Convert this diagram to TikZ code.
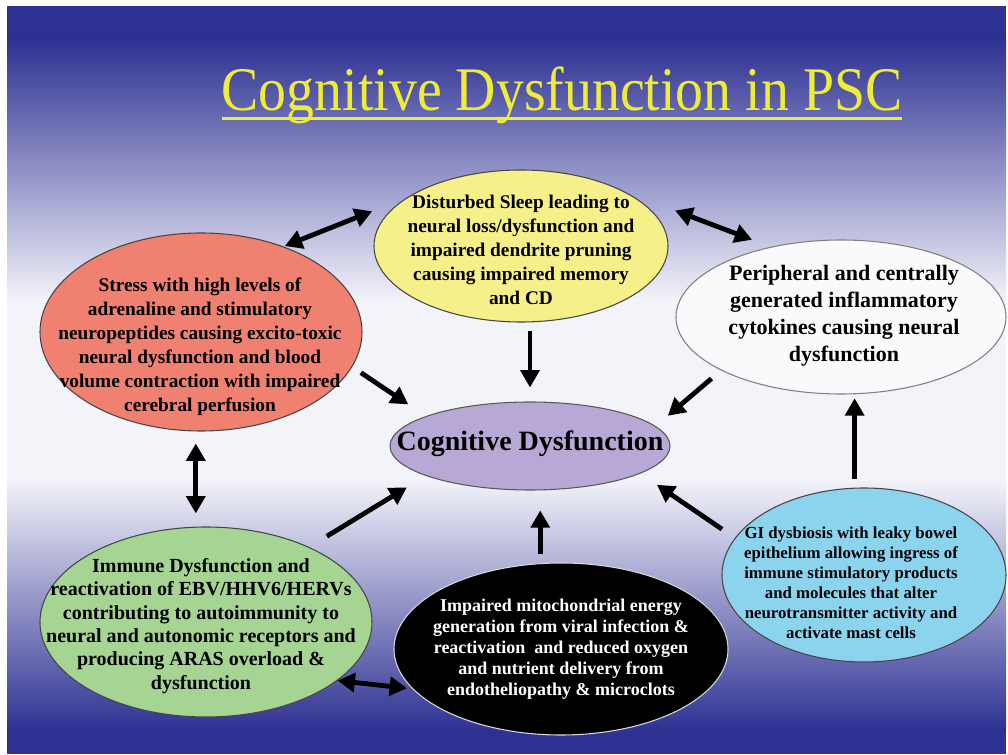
\documentclass[tikz,border=0pt]{standalone}
\usepackage{fontspec}
\setmainfont{Liberation Serif}
\usetikzlibrary{arrows.meta,shapes.geometric,calc}
\definecolor{bgblue}{RGB}{46,49,146}
\definecolor{bgwhite}{RGB}{243,243,250}
\definecolor{ttlyellow}{RGB}{238,236,54}
\definecolor{cyel}{RGB}{246,240,138}
\definecolor{cred}{RGB}{240,128,112}
\definecolor{cwhite}{RGB}{250,250,253}
\definecolor{cpur}{RGB}{183,168,214}
\definecolor{cgreen}{RGB}{166,212,146}
\definecolor{ccyan}{RGB}{140,212,238}
\definecolor{edge}{RGB}{70,70,70}
\begin{document}
\begin{tikzpicture}[x=0.75pt,y=-0.75pt,
  ell/.style={ellipse,inner sep=0pt,draw=edge,line width=0.8pt},
  txt/.style={align=center,inner sep=0pt,font=\bfseries},
  arr/.style={line width=3.6pt,-{Triangle[length=13pt,width=14pt]}},
  darr/.style={line width=3.6pt,{Triangle[length=13pt,width=14pt]}-{Triangle[length=13pt,width=14pt]}},
  uline/.style={draw=ttlyellow,line width=2.4pt}]
\useasboundingbox (0,0) rectangle (1008,755);
\fill[white] (0,0) rectangle (1008,755);
\fill[bgblue] (7,6) rectangle (1006,41);
\shade[top color=bgblue,bottom color=bgwhite] (7,40) rectangle (1006,301);
\fill[bgwhite] (7,300) rectangle (1006,481);
\shade[top color=bgwhite,bottom color=bgblue] (7,480) rectangle (1006,731);
\fill[bgblue] (7,730) rectangle (1006,754);

% title
\node[inner sep=0pt,anchor=base,text=ttlyellow,xscale=0.9,font=\fontsize{46.5}{54}\selectfont] (ttl) at (562,111) {Cognitive Dysfunction in PSC};
\draw[uline] ([yshift=-5.5pt]ttl.base west) -- ([yshift=-5.5pt]ttl.base east);

% ellipses
\node[ell,fill=cyel,minimum width=220.5pt,minimum height=114pt] (yel) at (521,246) {};
\node[ell,fill=cred,minimum width=241.5pt,minimum height=148.5pt] (red) at (201,332) {};
\node[ell,fill=cwhite,draw=gray,minimum width=247.5pt,minimum height=115.5pt] (wht) at (841,317) {};
\node[ell,fill=cpur,draw=gray!70!black,minimum width=210pt,minimum height=66pt] (pur) at (530,446) {};
\node[ell,fill=cgreen,minimum width=249pt,minimum height=142.5pt] (grn) at (206,622) {};
\node[ell,fill=black,draw=gray!30,minimum width=250.5pt,minimum height=129pt] (blk) at (561,649) {};
\node[ell,fill=ccyan,minimum width=213pt,minimum height=130.5pt] (cyn) at (864,575) {};

% texts
\node[txt,font=\bfseries\fontsize{14.5}{18}\selectfont] (tyel) at (521,250) {Disturbed Sleep leading to\\neural loss/dysfunction and\\impaired dendrite pruning\\causing impaired memory\\and CD};
\node[txt,font=\bfseries\fontsize{14.5}{18}\selectfont] (tred) at (200,347) {Stress with high levels of\\adrenaline and stimulatory\\neuropeptides causing excito-toxic\\neural dysfunction and blood\\volume contraction with impaired\\cerebral perfusion};
\node[txt,font=\bfseries\fontsize{16.5}{20.25}\selectfont] (twht) at (844,316) {Peripheral and centrally\\generated inflammatory\\cytokines causing neural\\dysfunction};
\node[txt,font=\bfseries\fontsize{21}{25}\selectfont] (tpur) at (530,444) {Cognitive Dysfunction};
\node[txt,font=\bfseries\fontsize{15}{17.5}\selectfont] (tgrn) at (201,626) {Immune Dysfunction and\\reactivation of EBV/HHV6/HERVs\\contributing to autoimmunity to\\neural and autonomic receptors and\\producing ARAS overload \&\\dysfunction};
\node[txt,text=white,font=\bfseries\fontsize{13.5}{15.75}\selectfont] (tblk) at (561,649) {Impaired mitochondrial energy\\generation from viral infection \&\\reactivation\ \ and reduced oxygen\\and nutrient delivery from\\endotheliopathy \& microclots};
\node[txt,font=\bfseries\fontsize{12.6}{15}\selectfont] (tcyn) at (851,583) {GI dysbiosis with leaky bowel\\epithelium allowing ingress of\\immune stimulatory products\\and molecules that alter\\neurotransmitter activity and\\activate mast cells};

% arrows
\draw[darr,shorten <=1pt,shorten >=28pt] (red.46) -- (yel.157);
\draw[darr,shorten <=41pt,shorten >=15pt] (yel.28) -- (wht.135);
\draw[arr,shorten <=6pt,shorten >=10.5pt] (pur |- yel.south) -- (pur.north);
\draw[arr,shorten <=7.8pt,shorten >=15.8pt] (red.-13.2) -- (pur.164.3);
\draw[arr,shorten <=9.4pt,shorten >=11.9pt] (wht.204.1) -- (pur.9.8);
\draw[darr,shorten <=9pt,shorten >=9.75pt] (red.-93) -- (red.-93 |- grn.north);
\draw[arr,shorten <=15.5pt,shorten >=16.6pt] (grn.36.7) -- (pur.196.1);
\draw[arr,shorten <=6pt,shorten >=15pt] (pur.-77 |- blk.north) -- (pur.-77);
\draw[arr,shorten <=11.7pt,shorten >=15pt] (cyn.164.3) -- (pur.-14.4);
\draw[arr,shorten <=6pt,shorten >=3pt] (wht.-80 |- cyn.north) -- (wht.-80);
\draw[darr,shorten <=0pt,shorten >=4pt] (grn.-24.9) -- (blk.195);
\end{tikzpicture}
\end{document}
